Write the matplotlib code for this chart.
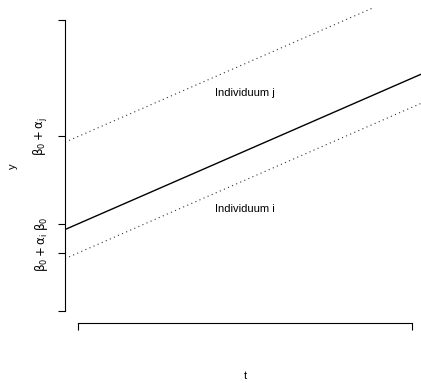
import matplotlib
matplotlib.use("Agg")
import matplotlib.pyplot as plt
import numpy as np

plt.rcParams['font.family'] = ['Liberation Sans', 'DejaVu Sans']
plt.rcParams['mathtext.fontset'] = 'dejavusans'

# Data
beta0 = 3.0
alpha_i = -1.0
alpha_j = 3.0
slope = 0.5
t_range = [-0.4, 10.4]
x_ticks = [0, 10]
y_ticks = [0, 2, 3, 6, 10]
y_ticklabels = ['', r'$\mathrm{β_0+α_i}$', r'$\mathrm{β_0}$', r'$\mathrm{β_0+α_j}$', '']
text_labels = ['Individuum j', 'Individuum i']
text_pos = [(5, 7.5), (5, 3.5)]

W, H = 421, 383
fig = plt.figure(figsize=(W / 100, H / 100), dpi=100)
left, right, top, bottom = 65, 425.4, 8, 323
ax = fig.add_axes([left / W, (H - bottom) / H, (right - left) / W, (bottom - top) / H])

t = np.array(t_range)
ax.plot(t, beta0 + slope * t, color='black', lw=1.0)
ax.plot(t, beta0 + alpha_i + slope * t, color='#333333', lw=0.8, ls=(0, (1, 3)))
ax.plot(t, beta0 + alpha_j + slope * t, color='#333333', lw=0.8, ls=(0, (1, 3)))

for lab, (x, y) in zip(text_labels, text_pos):
    ax.text(x, y, lab, ha='center', va='center', fontsize=8)

ax.set_xlim(-0.4, 10.4)
ax.set_ylim(-0.41, 10.41)
for s in ['top', 'right']:
    ax.spines[s].set_visible(False)
ax.spines['left'].set_bounds(0, 10)
ax.spines['bottom'].set_bounds(0, 10)
ax.spines['left'].set_linewidth(0.8)
ax.spines['bottom'].set_linewidth(0.8)
ax.set_xticks(x_ticks)
ax.set_xticklabels(['', ''])
ax.set_yticks(y_ticks)
ax.set_yticklabels(y_ticklabels, rotation=90, va='center', fontsize=8.5)
ax.tick_params(axis='both', length=5, width=0.8, pad=6)
ax.patch.set_visible(False)

fig.text(13 / W, 1 - 166 / H, 'y', rotation=90, ha='center', va='center', fontsize=8)
fig.text(245 / W, 1 - 376 / H, 't', ha='center', va='center', fontsize=8)

fig.savefig('out.png', dpi=100)
